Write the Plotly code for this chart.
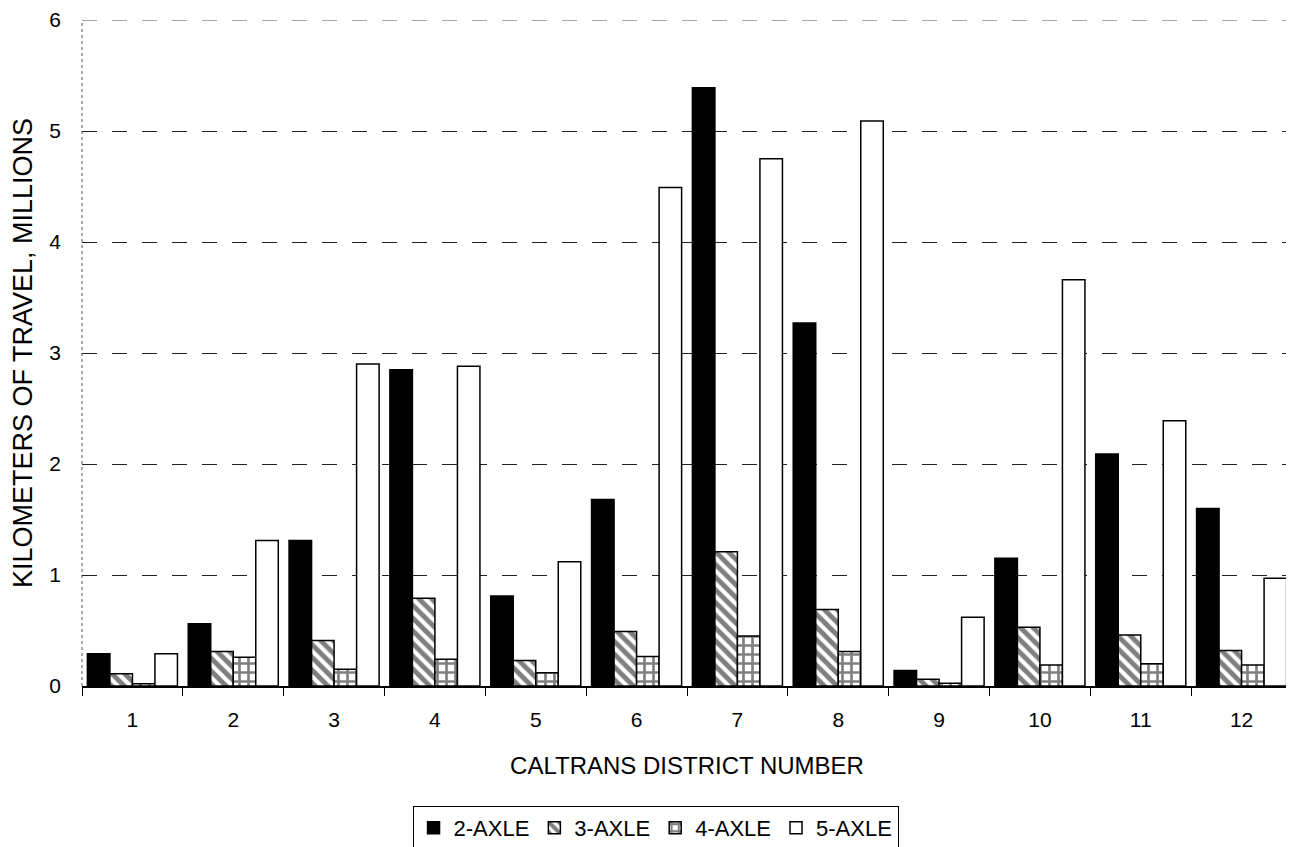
import plotly.graph_objects as go

districts = ["1", "2", "3", "4", "5", "6", "7", "8", "9", "10", "11", "12"]
axle2 = [0.29, 0.56, 1.31, 2.85, 0.81, 1.68, 5.39, 3.27, 0.14, 1.15, 2.09, 1.60]
axle3 = [0.11, 0.31, 0.41, 0.79, 0.23, 0.49, 1.21, 0.69, 0.06, 0.53, 0.46, 0.32]
axle4 = [0.02, 0.26, 0.15, 0.24, 0.12, 0.265, 0.45, 0.31, 0.025, 0.19, 0.20, 0.19]
axle5 = [0.29, 1.31, 2.90, 2.88, 1.12, 4.49, 4.75, 5.09, 0.62, 3.66, 2.39, 0.97]
series_names = ["2-AXLE", "3-AXLE", "4-AXLE", "5-AXLE"]
y_max = 6

FONT = "Liberation Sans, Arial, sans-serif"
line = dict(color="black", width=1.5)

fig = go.Figure()
fig.add_trace(go.Bar(x=districts, y=axle2, name=series_names[0],
                     marker=dict(color="black", line=line)))
fig.add_trace(go.Bar(x=districts, y=axle3, name=series_names[1],
                     marker=dict(color="white", line=line,
                                 pattern=dict(shape="\\", fgcolor="black", bgcolor="white",
                                              size=9, solidity=0.55, fillmode="overlay"))))
fig.add_trace(go.Bar(x=districts, y=axle4, name=series_names[2],
                     marker=dict(color="white", line=line,
                                 pattern=dict(shape="+", fgcolor="black", bgcolor="white",
                                              size=9, solidity=0.5, fillmode="overlay"))))
fig.add_trace(go.Bar(x=districts, y=axle5, name=series_names[3],
                     marker=dict(color="white", line=line)))

# dotted left edge and the top gridline at the range maximum
fig.add_shape(type="line", xref="paper", yref="y", x0=0, x1=0, y0=0, y1=y_max,
              line=dict(color="#555", width=1, dash="dot"), layer="below")
fig.add_shape(type="line", xref="paper", yref="y", x0=0, x1=1, y0=y_max, y1=y_max,
              line=dict(color="#222", width=0.8, dash="longdash"), layer="below")

# page body has an 8px margin; the figure is sized so it fits the 1294x847 window
fig.update_layout(
    width=1286, height=839,
    paper_bgcolor="white", plot_bgcolor="white",
    margin=dict(l=74, r=2, t=12, b=161, autoexpand=False),
    barmode="group", bargap=0.107, bargroupgap=0,
    font=dict(family=FONT, size=21, color="black"),
    showlegend=True,
    legend=dict(orientation="h", x=0.474, xanchor="center", y=-0.18, yanchor="top",
                bordercolor="black", borderwidth=1, bgcolor="white",
                font=dict(family=FONT, size=22), itemwidth=30,
                tracegroupgap=0, traceorder="normal"),
)
fig.update_xaxes(
    title=dict(text="CALTRANS DISTRICT NUMBER", font=dict(family=FONT, size=24), standoff=27),
    automargin=False,
    showline=True, linecolor="black", linewidth=1.5,
    ticks="outside", tickson="boundaries", ticklen=8, tickcolor="black", tickwidth=1,
    ticklabelstandoff=14,
    showgrid=False, tickfont=dict(size=21),
)
fig.update_yaxes(
    title=dict(text="KILOMETERS OF TRAVEL, MILLIONS", font=dict(family=FONT, size=27), standoff=15),
    automargin=False,
    range=[0, y_max], dtick=1, tick0=0,
    showgrid=True, gridcolor="#222", gridwidth=0.8, griddash="longdash",
    zeroline=False, showline=False,
    ticks="", ticklabelstandoff=20, tickfont=dict(size=21),
    ticklabeloverflow="allow",
)

fig.write_html("out.html")
